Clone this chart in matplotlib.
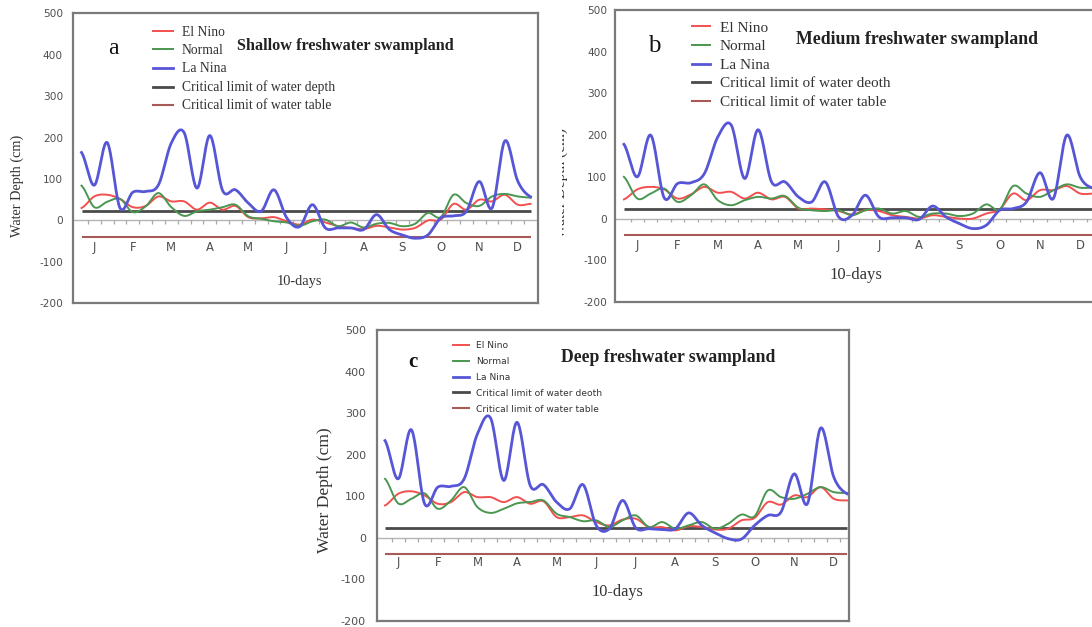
import numpy as np
import matplotlib
matplotlib.use("Agg")
import matplotlib.pyplot as plt
from matplotlib.transforms import Bbox, TransformedBbox

plt.rcParams["axes.unicode_minus"] = False

# ---------------- data ----------------
months = ["J", "F", "M", "A", "M", "J", "J", "A", "S", "O", "N", "D"]
decads = np.arange(36)  # 10-day periods

shallow_elnino = [30, 58, 62, 52, 32, 35, 58, 46, 46, 26, 43, 26, 35, 8, 5, 8, -2, -10,
                  2, -5, -14, -18, -21, -13, -17, -22, -18, 0, 2, 40, 26, 50, 46, 62, 38, 40]
shallow_normal = [84, 32, 45, 52, 20, 34, 66, 32, 11, 22, 26, 32, 38, 10, 4, -2, -5, -13,
                  -2, 2, -14, -5, -17, -8, -6, -14, -8, 18, 8, 62, 42, 35, 58, 64, 58, 55]
shallow_lanina = [164, 85, 188, 30, 68, 70, 86, 187, 212, 78, 205, 72, 74, 42, 22, 74, 6, -15,
                  38, -18, -18, -18, -22, 14, -22, -35, -43, -35, 6, 11, 22, 94, 30, 192, 95, 57]

medium_elnino = [46, 70, 76, 70, 48, 58, 76, 62, 64, 48, 62, 46, 52, 24, 24, 22, 18, 10,
                 20, 18, 8, 4, 0, 8, 4, 0, 0, 12, 22, 60, 44, 68, 68, 78, 60, 60]
medium_normal = [100, 48, 60, 72, 40, 56, 82, 44, 32, 44, 52, 48, 54, 26, 20, 18, 20, 8,
                 20, 24, 12, 18, 4, 12, 12, 6, 12, 34, 22, 78, 60, 52, 68, 82, 74, 74]
medium_lanina = [178, 100, 200, 50, 84, 86, 108, 196, 224, 96, 213, 88, 88, 52, 40, 88, 4, 8,
                 56, 4, 2, 2, -2, 30, 4, -12, -24, -16, 20, 24, 40, 110, 48, 200, 100, 72]

deep_elnino = [78, 106, 112, 102, 82, 86, 110, 98, 98, 86, 98, 82, 88, 50, 50, 54, 38, 30,
               44, 46, 26, 26, 18, 28, 26, 20, 22, 42, 48, 86, 80, 102, 98, 122, 94, 90]
deep_normal = [142, 83, 94, 107, 70, 90, 122, 74, 60, 70, 83, 86, 90, 58, 50, 40, 42, 26,
               42, 54, 26, 38, 22, 30, 38, 22, 34, 56, 52, 114, 98, 94, 106, 122, 110, 108]
deep_lanina = [234, 142, 260, 82, 122, 124, 142, 250, 288, 138, 278, 126, 128, 86, 70, 128, 30, 22,
               90, 24, 22, 20, 22, 60, 30, 12, -2, -3, 30, 54, 62, 154, 82, 264, 146, 106]

critical_depth = 23
critical_table = -40
yticks = [-200, -100, 0, 100, 200, 300, 400, 500]

series_names = ["El Nino", "Normal", "La Nina"]

# ---------------- styling ----------------
W, H = 1092, 627
RED = "#f2504f"
GREEN = "#4b9650"
BLUE = "#5656d6"
DEPTH_C = "#4a4a4a"
TABLE_C = "#a85a58"
GRAY = "#4f4f4f"
SERIF = ["Liberation Serif", "DejaVu Serif"]
SANS = ["DejaVu Sans"]


def smooth(x, y, n=20):
    """Catmull-Rom curve through the points (Excel-like smoothed line)."""
    x = np.asarray(x, float)
    y = np.asarray(y, float)
    px = np.concatenate([[2 * x[0] - x[1]], x, [2 * x[-1] - x[-2]]])
    py = np.concatenate([[y[0]], y, [y[-1]]])
    t = np.linspace(0, 1, n, endpoint=False)
    xs, ys = [], []
    for i in range(1, len(px) - 2):
        for arr, out in ((px, xs), (py, ys)):
            p0, p1, p2, p3 = arr[i - 1], arr[i], arr[i + 1], arr[i + 2]
            out.append(0.5 * ((2 * p1) + (-p0 + p2) * t
                              + (2 * p0 - 5 * p1 + 4 * p2 - p3) * t ** 2
                              + (-p0 + 3 * p1 - 3 * p2 + p3) * t ** 3))
    xs.append([x[-1]])
    ys.append([y[-1]])
    return np.concatenate(xs), np.concatenate(ys)


fig = plt.figure(figsize=(W / 100, H / 100), dpi=100)
fig.patch.set_facecolor("white")


def make_axes(l, r, t, b):
    return fig.add_axes([l / W, 1 - b / H, (r - l) / W, (b - t) / H])


panels = [
    dict(box=(72.7, 538, 13.3, 303.3), x0=81.5, dx=12.83,
         data=(shallow_elnino, shallow_normal, shallow_lanina),
         title="Shallow freshwater swampland", title_xy=(345, 46), title_fs=11.7,
         letter="a", letter_xy=(113, 49), letter_fs=17, letter_w="normal",
         depth_label="Critical limit of water depth",
         leg_xy=(153, 26), leg_fs=9.8, leg_font=SERIF, leg_spacing=0.38,
         leg_hl=1.47, leg_tp=0.66,
         tick_fs=7.6, tick_pad=7, month_y=-66, days_x=17.0, days_y=-148, days_fs=10.4,
         ylabel_xy=(17, 186), ylabel_fs=10.3, ylabel_clip=None),
    dict(box=(615, 1101, 10, 302), x0=623.9, dx=13.42,
         data=(medium_elnino, medium_normal, medium_lanina),
         title="Medium freshwater swampland", title_xy=(917, 39), title_fs=12.8,
         letter="b", letter_xy=(654, 46), letter_fs=18, letter_w="normal",
         depth_label="Critical limit of water deoth",
         leg_xy=(692, 21), leg_fs=11.0, leg_font=SERIF, leg_spacing=0.32,
         leg_hl=1.17, leg_tp=0.65,
         tick_fs=7.6, tick_pad=5.5, month_y=-64, days_x=17.3, days_y=-136, days_fs=12,
         ylabel_xy=(561, 183), ylabel_fs=11, ylabel_clip=562),
    dict(box=(377, 849, 330, 621), x0=385, dx=13.2,
         data=(deep_elnino, deep_normal, deep_lanina),
         title="Deep freshwater swampland", title_xy=(668, 357), title_fs=12.7,
         letter="c", letter_xy=(413, 362), letter_fs=15, letter_w="bold",
         depth_label="Critical limit of water deoth",
         leg_xy=(453, 341), leg_fs=6.6, leg_font=SANS, leg_spacing=0.75,
         leg_hl=1.7, leg_tp=0.8,
         tick_fs=8.0, tick_pad=8, month_y=-60, days_x=17.65, days_y=-130, days_fs=11.7,
         ylabel_xy=(325, 490), ylabel_fs=12.6, ylabel_clip=None),
]

for p in panels:
    l, r, t, b = p["box"]
    ax = make_axes(l, r, t, b)
    x0, dx = p["x0"], p["dx"]
    ax.set_xlim((l - x0) / dx, (r - x0) / dx)
    ax.set_ylim(-200, 500)
    ax.set_facecolor("white")

    # zero axis with small hanging ticks
    ax.axhline(0, color="#b4b4b4", lw=1.0, zorder=1)
    ax.vlines(decads[:-1] + 0.5, -9, 0, color="#a8a8a8", lw=0.9, zorder=1)

    el, no, la = p["data"]
    h1, = ax.plot(*smooth(decads, el), color=RED, lw=1.4, zorder=3)
    h2, = ax.plot(*smooth(decads, no), color=GREEN, lw=1.4, zorder=3)
    h3, = ax.plot(*smooth(decads, la), color=BLUE, lw=2.0, zorder=4)
    ax.hlines(critical_depth, decads[0], decads[-1], color=DEPTH_C, lw=2.0, zorder=2)
    ax.hlines(critical_table, decads[0], decads[-1], color=TABLE_C, lw=1.5, zorder=2)

    for s in ax.spines.values():
        s.set_color("#7a7a7a")
        s.set_linewidth(1.6)

    ax.set_xticks([])
    ax.set_yticks(yticks)
    ax.set_yticklabels([str(v) for v in yticks], color=GRAY, fontsize=p["tick_fs"],
                       family=SANS)
    ax.tick_params(axis="y", length=0, pad=p["tick_pad"])

    for m, name in enumerate(months):
        ax.text(1 + 3 * m, p["month_y"], name, ha="center", va="center",
                color=GRAY, fontsize=8.4, family=SANS)

    ax.text(p["days_x"], p["days_y"], "10-days", ha="center", va="center",
            fontsize=p["days_fs"], family=SERIF, color="#333333")

    # legend
    handles = [h1, h2, h3,
               plt.Line2D([], [], color=DEPTH_C, lw=2.0),
               plt.Line2D([], [], color=TABLE_C, lw=1.5)]
    labels = series_names + [p["depth_label"], "Critical limit of water table"]
    lx, ly = p["leg_xy"]
    leg = ax.legend(handles, labels, loc="upper left",
                    bbox_to_anchor=((lx - l) / (r - l), 1 - (ly - t) / (b - t)),
                    frameon=False, borderaxespad=0, borderpad=0,
                    handlelength=p["leg_hl"], handletextpad=p["leg_tp"],
                    labelspacing=p["leg_spacing"],
                    prop=dict(family=p["leg_font"], size=p["leg_fs"]))
    for txt in leg.get_texts():
        txt.set_color("#333333")

    # title and panel letter (figure-pixel placement)
    tx, ty = p["title_xy"]
    fig.text(tx / W, 1 - ty / H, p["title"], ha="center", va="center",
             fontsize=p["title_fs"], fontweight="bold", family=SERIF, color="#222222")
    lx2, ly2 = p["letter_xy"]
    fig.text(lx2 / W, 1 - ly2 / H, p["letter"], ha="center", va="center",
             fontsize=p["letter_fs"], fontweight=p["letter_w"], family=SERIF, color="#111111")

    # y label
    yx, yy = p["ylabel_xy"]
    yl = fig.text(yx / W, 1 - yy / H, "Water Depth (cm)", rotation=90,
                  ha="center", va="center", fontsize=p["ylabel_fs"],
                  family=SERIF, color="#333333")
    if p["ylabel_clip"] is not None:
        clip = TransformedBbox(Bbox([[p["ylabel_clip"] / W, 0], [1, 1]]), fig.transFigure)
        yl.set_clip_box(clip)
        yl.set_clip_on(True)

fig.savefig("out.png", dpi=100, facecolor="white")
